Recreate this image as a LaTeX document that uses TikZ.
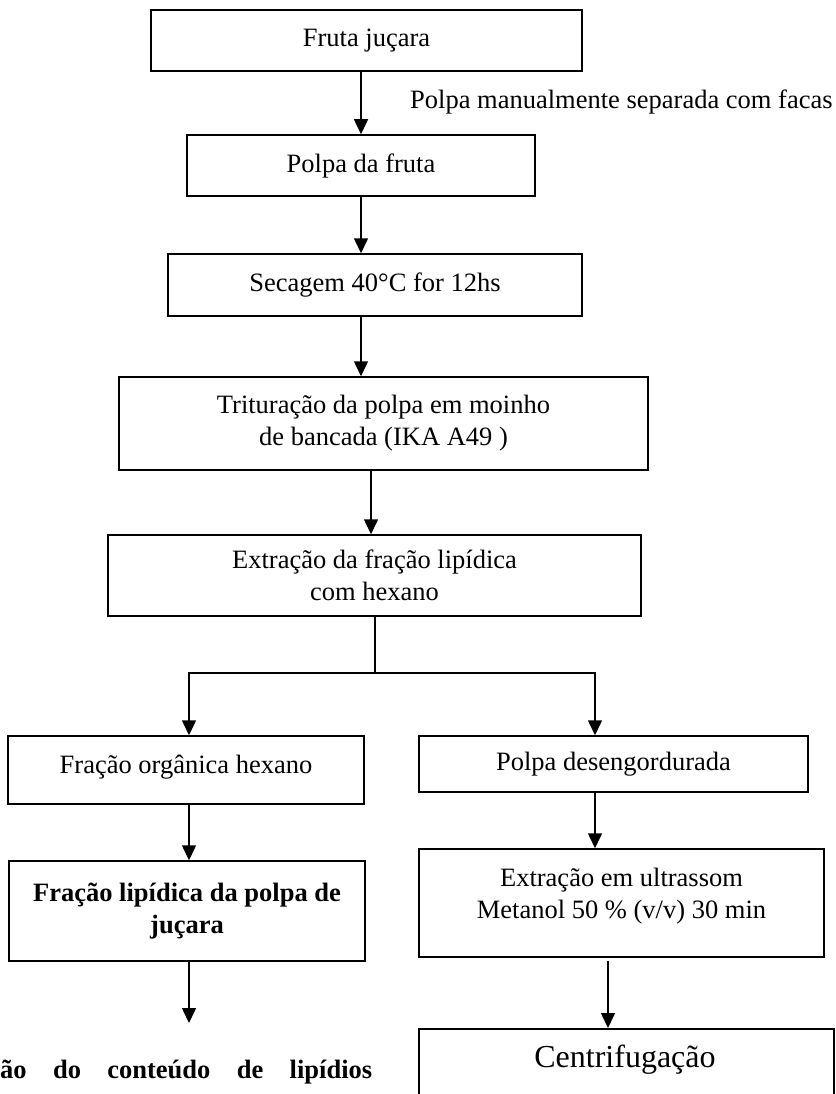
\documentclass[tikz,border=0pt]{standalone}
\usepackage{fontspec}
\setmainfont{Liberation Serif}
\usetikzlibrary{arrows.meta}
\begin{document}
\begin{tikzpicture}[x=1pt,y=-1pt,
  txt/.style={font=\fontsize{26.5}{32}\selectfont},
  box/.style={draw, line width=1.5pt, inner sep=0pt, align=center, txt},
  arr/.style={line width=1.5pt, -{Triangle[length=15pt,width=14pt]}},
  ln/.style={line width=1.5pt}]
\useasboundingbox (0,0) rectangle (835,1094);
\node[box, minimum width=431pt, minimum height=61pt] (b1) at (366.5,40.5) {Fruta juçara};
\node[box, minimum width=348pt, minimum height=61pt] (b2) at (361,165.5) {Polpa da fruta};
\node[box, minimum width=414pt, minimum height=62pt] (b3) at (375,285) {Secagem 40°C for 12hs};
\node[box, minimum width=529pt, minimum height=93pt] (b4) at (383.5,423.5) {Trituração da polpa em moinho\\de bancada (IKA A49 )};
\node[box, minimum width=533pt, minimum height=81pt] (b5) at (374.5,575.5) {Extração da fração lipídica\\com hexano};
\node[box, minimum width=356pt, minimum height=68pt] (b6) at (186,770) {Fração orgânica hexano\\[-20pt]};
\node[box, minimum width=389pt, minimum height=56pt] (b7) at (613.5,764) {Polpa desengordurada};
\node[box, minimum width=356pt, minimum height=100pt, font=\bfseries\fontsize{26.5}{32}\selectfont] (b8) at (187,911) {Fração lipídica da polpa de\\juçara};
\node[box, minimum width=405pt, minimum height=108pt] (b9) at (621.5,903) {Extração em ultrassom\\Metanol 50 \% (v/v) 30 min\\[-12pt]};
\node[box, minimum width=415pt, minimum height=90pt, anchor=north] (b10) at (626.5,1028) {};
\node[font=\fontsize{32}{38}\selectfont, inner sep=0pt] (t10) at (625,1060) {Centrifugação};
\node[txt, anchor=base west, inner sep=0pt] (lab) at (410,109) {Polpa manualmente separada com facas};
\node[anchor=base west, inner sep=0pt, font=\bfseries\fontsize{26.5}{32}\selectfont] (t11) at (0,1078) {\makebox[372pt][s]{ão do conteúdo de lipídios}};
\coordinate (j) at (375,673);
\coordinate (e8) at (189,1023);
\coordinate (r) at (595,673);
\coordinate (m) at (371,500);
\draw[arr] (b1.south -| b2.north) -- (b2.north);
\draw[arr] (b2.south) -- (b2.south |- b3.north);
\draw[arr] (b3.south -| b2.south) -- (b4.north -| b2.south);
\draw[arr] (b4.south -| m) -- (b5.north -| m);
\draw[ln] (b5.south -| j) -- (j);
\draw[arr] (j) -| (b6.north -| e8);
\draw[arr] (j) -| (b7.north -| r);
\draw[arr] (b6.south -| e8) -- (b8.north -| e8);
\draw[arr] (b7.south -| r) -- (b9.north -| r);
\draw[arr] (b8.south -| e8) -- (e8);
\draw[arr, shorten <=3pt] ([xshift=-13.5pt]b9.south) -- ([xshift=-18.5pt]b10.north);
\end{tikzpicture}
\end{document}
